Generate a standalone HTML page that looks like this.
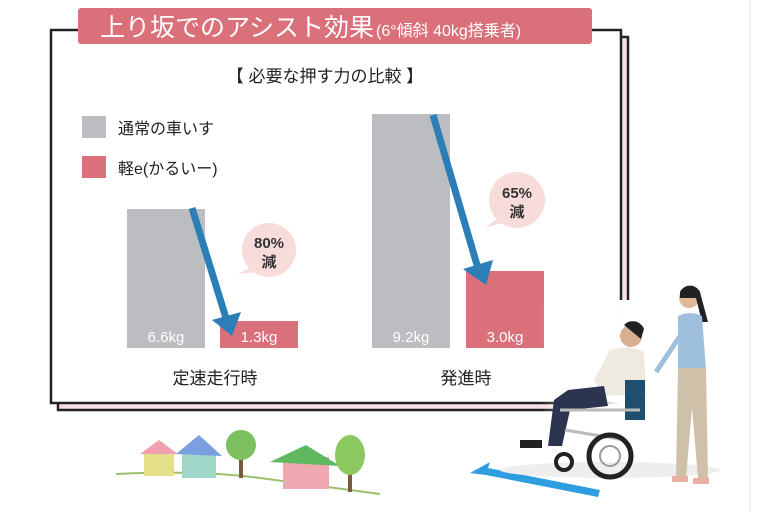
<!DOCTYPE html>
<html><head><meta charset="utf-8"><style>
html,body{margin:0;padding:0;background:#fff;width:768px;height:512px;overflow:hidden}
svg{display:block}
text{font-family:"Liberation Sans","Noto Sans CJK JP",sans-serif}
</style></head><body>
<svg width="768" height="512" viewBox="0 0 768 512" xmlns="http://www.w3.org/2000/svg">
<defs>
<linearGradient id="fade" x1="0" x2="1" y1="0" y2="0">
<stop offset="0.3" stop-color="#fff" stop-opacity="0"/><stop offset="0.9" stop-color="#fff" stop-opacity="1"/>
</linearGradient>
</defs>
<rect width="768" height="512" fill="#fff"/>
<line x1="750" y1="0" x2="750" y2="512" stroke="#eee" stroke-width="1"/>
<rect x="58" y="37" width="570" height="373" fill="#f7e1e6" stroke="#222" stroke-width="2.5"/>
<rect x="51" y="30" width="570" height="373" fill="#fff" stroke="#222" stroke-width="2.5"/>
<rect x="78" y="8" width="514" height="36" rx="3" fill="#d9707a"/>
<text x="100" y="36" font-size="25" fill="#fff">上り坂でのアシスト効果<tspan font-size="16" dx="2">(6°傾斜 40kg搭乗者)</tspan></text>
<text x="325" y="82" font-size="17" fill="#222" text-anchor="middle">【 必要な押す力の比較 】</text>
<rect x="82" y="116" width="24" height="22" fill="#bcbdc0"/>
<text x="118" y="134" font-size="16" fill="#222">通常の車いす</text>
<rect x="82" y="156" width="24" height="22" fill="#d9707a"/>
<text x="118" y="174" font-size="16" fill="#222">軽e(かるいー)</text>
<rect x="127" y="209" width="78" height="139" fill="#bcbdc0"/>
<rect x="220" y="321" width="78" height="27" fill="#d9707a"/>
<rect x="372" y="114" width="78" height="234" fill="#bcbdc0"/>
<rect x="466" y="271" width="78" height="77" fill="#d9707a"/>
<text x="166" y="342" font-size="15" fill="#fff" text-anchor="middle">6.6kg</text>
<text x="259" y="342" font-size="15" fill="#fff" text-anchor="middle">1.3kg</text>
<text x="411" y="342" font-size="15" fill="#fff" text-anchor="middle">9.2kg</text>
<text x="505" y="342" font-size="15" fill="#fff" text-anchor="middle">3.0kg</text>
<circle cx="269" cy="250" r="27" fill="#f8dcdc"/>
<polygon points="250,268 237,274 258,272" fill="#f8dcdc"/>
<text x="269" y="248" font-size="15" font-weight="bold" fill="#333" text-anchor="middle">80%</text>
<text x="269" y="267" font-size="15" font-weight="bold" fill="#333" text-anchor="middle">減</text>
<circle cx="517" cy="200" r="28" fill="#f8dcdc"/>
<polygon points="498,218 485,228 505,222" fill="#f8dcdc"/>
<text x="517" y="198" font-size="15" font-weight="bold" fill="#333" text-anchor="middle">65%</text>
<text x="517" y="217" font-size="15" font-weight="bold" fill="#333" text-anchor="middle">減</text>
<line x1="192" y1="208" x2="226" y2="318" stroke="#2b7fb6" stroke-width="7"/>
<polygon points="212,320 241,312 232,336" fill="#2b7fb6"/>
<line x1="433" y1="115" x2="477" y2="265" stroke="#2b7fb6" stroke-width="7"/>
<polygon points="463,269 493,260 486,285" fill="#2b7fb6"/>
<text x="215" y="384" font-size="17" fill="#222" text-anchor="middle">定速走行時</text>
<text x="466" y="384" font-size="17" fill="#222" text-anchor="middle">発進時</text>
<rect x="500" y="300" width="135" height="120" fill="url(#fade)"/>
<path d="M116,474 Q200,470 260,478 T380,494" stroke="#9cc06a" stroke-width="2" fill="none"/>
<rect x="144" y="452" width="30" height="24" fill="#e4e08a"/><polygon points="140,454 159,440 178,454" fill="#f0a0b0"/>
<rect x="182" y="450" width="34" height="28" fill="#9ed6c8"/><polygon points="176,454 199,435 222,456" fill="#7a9fde"/>
<rect x="239" y="450" width="4" height="28" fill="#7a5a40"/><circle cx="241" cy="445" r="15" fill="#7cc060"/>
<rect x="283" y="457" width="46" height="32" fill="#f0a8b0"/><polygon points="270,462 306,445 340,466" fill="#5fb860"/>
<rect x="348" y="460" width="4" height="32" fill="#7a5a40"/><ellipse cx="350" cy="455" rx="15" ry="20" fill="#8cc860"/>
<polygon points="470,473 490,462 488,468 600,490 598,497 486,475" fill="#2f9ee0"/>
<ellipse cx="610" cy="470" rx="110" ry="8" fill="#eee"/>
<circle cx="631" cy="336" r="11" fill="#d8b090"/><path d="M624,325 a12 12 0 0 1 20 4 l-3 10z" fill="#222"/>
<path d="M610,350 q22,-6 34,2 l2,42 -44,2 -8,-16z" fill="#efeadf"/>
<path d="M568,390 l36,-4 4,20 -38,4 -8,36 -14,0 6,-46z" fill="#2b3550"/>
<rect x="520" y="440" width="22" height="8" fill="#222"/>
<rect x="625" y="380" width="20" height="40" fill="#1f4e6e"/>
<line x1="560" y1="410" x2="640" y2="410" stroke="#bbb" stroke-width="3"/>
<line x1="565" y1="430" x2="625" y2="440" stroke="#bbb" stroke-width="3"/>
<circle cx="610" cy="456" r="21" fill="none" stroke="#222" stroke-width="5"/>
<circle cx="610" cy="456" r="10" fill="none" stroke="#999" stroke-width="2"/>
<circle cx="564" cy="462" r="8" fill="none" stroke="#222" stroke-width="4"/>
<circle cx="689" cy="298" r="10" fill="#e0b898"/><path d="M680,292 a11 11 0 0 1 20 0 l8 30 -6 0 -6 -24 -16 0z" fill="#222"/>
<path d="M678,316 q12,-6 24,0 l4,54 -28,0z" fill="#9fc0dc"/>
<line x1="680" y1="336" x2="656" y2="372" stroke="#9fc0dc" stroke-width="5"/>
<path d="M678,368 l28,0 2,110 -10,0 -6,-70 -6,70 -10,0z" fill="#cfc0aa"/>
<rect x="672" y="476" width="16" height="6" fill="#e8b0a0"/><rect x="693" y="478" width="16" height="6" fill="#e8b0a0"/>
</svg>
</body></html>
